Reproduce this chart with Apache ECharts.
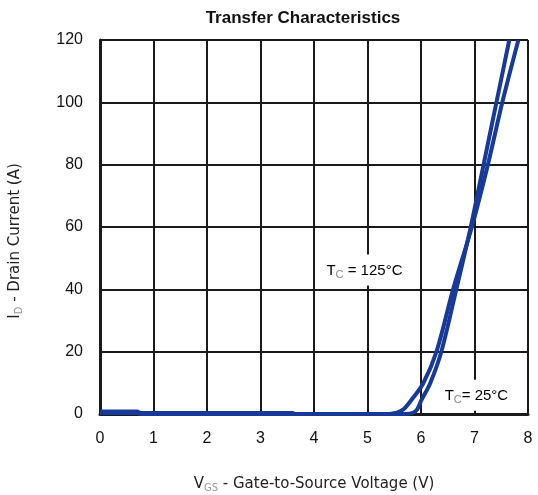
<!DOCTYPE html>
<html><head><meta charset="utf-8">
<script src="https://cdn.jsdelivr.net/npm/echarts@6/dist/echarts.min.js"></script>
<style>html,body{margin:0;padding:0;background:#fff}#c{width:538px;height:495px}</style>
</head><body><div id="c"></div>
<script>
const titleText = 'Transfer Characteristics';
const xTicks = [0,1,2,3,4,5,6,7,8];
const yTicks = [0,20,40,60,80,100,120];
// T_C = 125°C : [VGS (V), ID (A)]
const vgs125 = [0, 0.7, 0.75, 3.6, 3.65, 5.4, 5.55, 5.68, 5.82, 6.04, 6.29, 6.60, 6.95, 7.25, 7.52, 7.82];
const id125  = [0.8, 0.8, 0.4, 0.3, 0, 0, 0.4, 1.6, 4.5, 9.8, 20, 40, 60, 80, 100, 120];
// T_C = 25°C
const vgs25 = [0, 0.7, 0.75, 5.7, 5.85, 5.93, 6.01, 6.17, 6.38, 6.66, 6.93, 7.17, 7.41, 7.65];
const id25  = [0.3, 0.3, 0, 0, 0.4, 1.5, 4.5, 9.8, 20, 40, 60, 80, 100, 120];
const labels = [
  {v:4.12, i:46.2, temp:'125°C', sep:' = '},
  {v:6.33, i:6, temp:'25°C', sep:'= '}
];
const zip = (a,b) => a.map((v,k)=>[v,b[k]]);
const blue = '#16399a';
const chart = echarts.init(document.getElementById('c'), null, {renderer:'canvas'});
const font = 'Liberation Sans, Arial, sans-serif';
const nfont = 'DejaVu Sans, sans-serif';
const nameRich = {v:{fontFamily:nfont,fontSize:15,color:'#222'},s:{fontFamily:nfont,fontSize:10,color:'#999',verticalAlign:'bottom',padding:[8,0,0,0]},t:{fontFamily:nfont,fontSize:15,color:'#222'}};
chart.setOption({
  animation:false,
  title:{text:titleText,left:298,top:5,textAlign:'center',textStyle:{fontFamily:font,fontSize:17,fontWeight:'bold',color:'#111'}},
  grid:{left:100,right:10,top:40,bottom:81,show:false,containLabel:false,outerBoundsMode:'none'},
  xAxis:{type:'value',min:0,max:8,interval:1,
    name:'{v|V}{s|GS}{t| - Gate-to-Source Voltage (V)}',nameLocation:'middle',nameGap:61,
    nameTextStyle:{rich:nameRich},
    axisLine:{show:true,lineStyle:{color:'#1a1a1a',width:3}},axisTick:{show:false},
    axisLabel:{fontFamily:font,fontSize:16,color:'#111',margin:17,formatter:v=>xTicks.includes(v)?String(v):''},
    splitLine:{show:true,lineStyle:{color:'#1a1a1a',width:2}}},
  yAxis:{type:'value',min:0,max:120,interval:20,
    name:'{v|I}{s|D}{t| - Drain Current (A)}',nameLocation:'middle',nameGap:76,nameRotate:90,
    nameTextStyle:{padding:[0,28,0,0],rich:nameRich},
    axisLine:{show:true,lineStyle:{color:'#1a1a1a',width:3}},axisTick:{show:false},
    axisLabel:{fontFamily:font,fontSize:16,color:'#111',margin:17,formatter:v=>yTicks.includes(v)?String(v):''},
    splitLine:{show:true,lineStyle:{color:'#1a1a1a',width:2}}},
  series:[
    {type:'line',data:zip(vgs125,id125),smooth:0.3,symbol:'none',lineStyle:{color:blue,width:4},z:5},
    {type:'line',data:zip(vgs25,id25),smooth:0.3,symbol:'none',lineStyle:{color:blue,width:4},z:5},
    {type:'scatter',symbolSize:0,z:3,silent:true,itemStyle:{opacity:1},data:labels.map(l=>({value:[l.v,l.i],temp:l.temp,sep:l.sep})),
      label:{show:true,opacity:1,position:'right',distance:0,backgroundColor:'#fff',padding:[7,6,5,6],
        formatter:p=>'{t|T}{s|C}{u|'+p.data.sep+p.data.temp+'}',
        rich:{t:{fontFamily:font,fontSize:15,color:'#000'},s:{fontFamily:font,fontSize:11,color:'#888',verticalAlign:'bottom',padding:[8,0,0,0]},u:{fontFamily:font,fontSize:15,color:'#000'}}}}
  ]
});
</script></body></html>
